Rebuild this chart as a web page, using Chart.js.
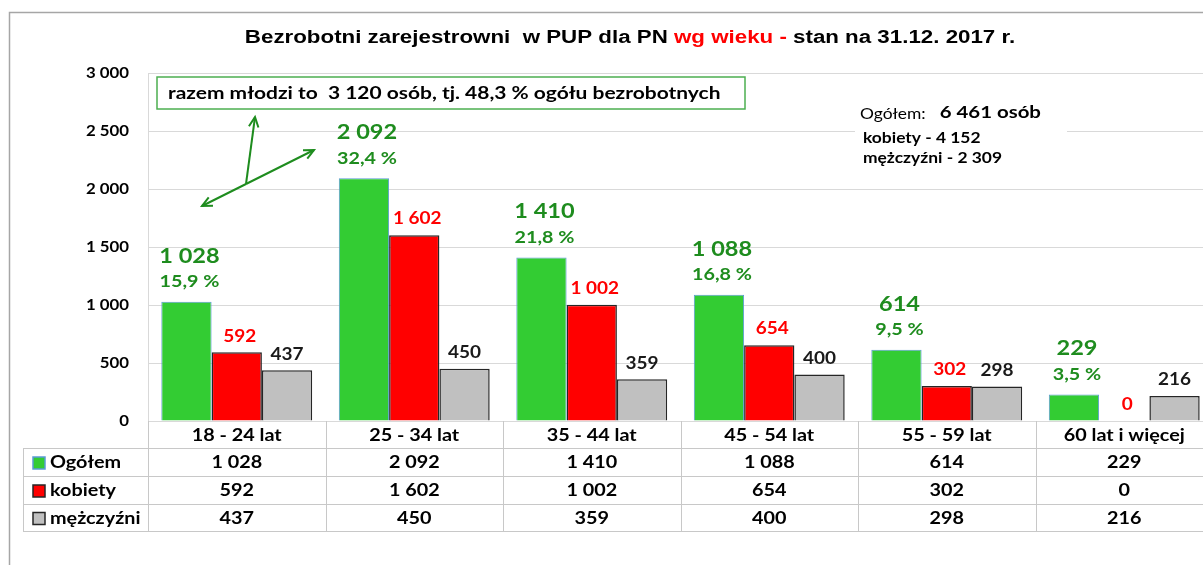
<!DOCTYPE html>
<html>
<head>
<meta charset="utf-8">
<script src="https://cdn.jsdelivr.net/npm/chart.js@4"></script>
<style>
  html, body { margin: 0; padding: 0; background: #fff; overflow: hidden; }
  #wrap { width: 1215px; height: 565px; }
</style>
</head>
<body>
<div id="wrap"><canvas id="myChart" width="1215" height="565"></canvas></div>
<script>
// dane - stan na 31.12.2017
const categories = ['18 - 24 lat', '25 - 34 lat', '35 - 44 lat', '45 - 54 lat', '55 - 59 lat', '60 lat i więcej'];
const ogolem = [1028, 2092, 1410, 1088, 614, 229];
const kobiety = [592, 1602, 1002, 654, 302, 0];
const mezczyzni = [437, 450, 359, 400, 298, 216];
const udzial = ['15,9 %', '32,4 %', '21,8 %', '16,8 %', '9,5 %', '3,5 %'];
const yMax = 3000;
const yStep = 500;

const seriesNames = ['Ogółem', 'kobiety', 'mężczyźni'];
const fills = ['#33CC33', '#FF0000', '#C0C0C0'];
const borders = ['#5B9BD5', '#262626', '#262626'];
const labelColors = ['#1E8C1E', '#FF0000', '#1a1a1a'];

const FONT = 'Lato, "Open Sans", sans-serif';
const TITLE_FONT = '"Liberation Sans", Arial, sans-serif';

// 1 028 -> spacja tysięcy
const fmt = v => String(v).replace(/\B(?=(\d{3})+(?!\d))/g, ' ');

// tekst rozciagniety w poziomie (jak w oryginale)
function txt(c, s, x, y, font, color, align, sx) {
  c.save();
  c.font = font;
  c.fillStyle = color;
  c.textBaseline = 'middle';
  c.textAlign = 'left';
  const w = c.measureText(s).width * sx;
  const x0 = align === 'center' ? x - w / 2 : align === 'right' ? x - w : x;
  c.translate(x0, y);
  c.scale(sx, 1);
  c.fillText(s, 0, 0);
  c.restore();
  return w;
}

const decorations = {
  id: 'decorations',
  beforeDraw(chart) {
    const c = chart.ctx;
    c.save();
    c.strokeStyle = '#a6a6a6';
    c.lineWidth = 1.5;
    c.beginPath();
    c.moveTo(9.5, 565);
    c.lineTo(9.5, 12.5);
    c.lineTo(1215, 12.5);
    c.stroke();
    c.restore();
  },
  afterDatasetsDraw(chart) {
    const c = chart.ctx;
    const metas = [0, 1, 2].map(i => chart.getDatasetMeta(i));

    // etykiety slupkow
    metas[0].data.forEach((bar, i) => {
      txt(c, fmt(ogolem[i]), bar.x + 3, bar.y - 46, 'bold 21px ' + FONT, labelColors[0], 'center', 1.12);
      txt(c, udzial[i], bar.x + 3, bar.y - 20, 'bold 17px ' + FONT, labelColors[0], 'center', 1.16);
    });
    metas[1].data.forEach((bar, i) => {
      txt(c, fmt(kobiety[i]), bar.x + 3, bar.y - 16, 'bold 16.5px ' + FONT, labelColors[1], 'center', 1.15);
    });
    metas[2].data.forEach((bar, i) => {
      txt(c, fmt(mezczyzni[i]), bar.x, bar.y - 16, 'bold 16.5px ' + FONT, labelColors[2], 'center', 1.15);
    });

    // osi Y - opisy
    const y = chart.scales.y;
    y.ticks.forEach(t => {
      txt(c, fmt(t.value), 129, y.getPixelForValue(t.value), 'bold 15px ' + FONT, '#000', 'right', 1.12);
    });

    // tytul
    const parts = [
      ['Bezrobotni zarejestrowni  w PUP dla PN ', '#000'],
      ['wg wieku - ', '#FF0000'],
      ['stan na 31.12. 2017 r.', '#000']
    ];
    const tf = 'bold 18px ' + TITLE_FONT;
    const tsx = 1.24;
    c.font = tf;
    const total = parts.reduce((s, p) => s + c.measureText(p[0]).width * tsx, 0);
    let tx = 630 - total / 2;
    parts.forEach(p => {
      tx += txt(c, p[0], tx, 38, tf, p[1], 'left', tsx);
    });

    // ramka "razem mlodzi"
    c.save();
    c.fillStyle = '#fff';
    c.fillRect(157, 77, 588, 32);
    c.strokeStyle = '#4CAF50';
    c.lineWidth = 1.5;
    c.strokeRect(157, 77, 588, 32);
    c.restore();
    txt(c, 'razem młodzi to  3 120 osób, tj. 48,3 % ogółu bezrobotnych', 168, 94, 'bold 16.5px ' + FONT, '#000', 'left', 1.27);

    // strzalki
    const arrow = (x1, y1, x2, y2) => {
      const a = Math.atan2(y2 - y1, x2 - x1);
      c.beginPath();
      c.moveTo(x1, y1);
      c.lineTo(x2, y2);
      c.stroke();
      c.beginPath();
      c.moveTo(x2 - 11 * Math.cos(a - 0.45), y2 - 11 * Math.sin(a - 0.45));
      c.lineTo(x2, y2);
      c.lineTo(x2 - 11 * Math.cos(a + 0.45), y2 - 11 * Math.sin(a + 0.45));
      c.stroke();
    };
    c.save();
    c.strokeStyle = '#1E8C1E';
    c.lineWidth = 2;
    arrow(246, 184, 255, 117);
    arrow(246, 184, 202, 206);
    arrow(246, 184, 314, 150);
    c.restore();

    // podsumowanie
    c.save();
    c.fillStyle = '#fff';
    c.fillRect(855, 100, 212, 70);
    c.restore();
    const w = txt(c, 'Ogółem:', 860, 114, '14.5px ' + FONT, '#000', 'left', 1.2);
    txt(c, '6 461 osób', 860 + w + 14, 113, 'bold 17px ' + FONT, '#000', 'left', 1.2);
    txt(c, 'kobiety - 4 152', 863, 138, 'bold 14.5px ' + FONT, '#000', 'left', 1.2);
    txt(c, 'mężczyźni - 2 309', 863, 158, 'bold 14.5px ' + FONT, '#000', 'left', 1.2);
  },
  afterDraw(chart) {
    // tabela danych pod osia
    const c = chart.ctx;
    const x = chart.scales.x;
    const area = chart.chartArea;
    const half = (x.getPixelForValue(1) - x.getPixelForValue(0)) / 2;
    const rows = [421, 448, 476, 504, 531];
    const tableLeft = 23;
    const tfont = 'bold 16.5px ' + FONT;
    const tsx = 1.2;
    c.save();
    c.strokeStyle = '#c8c8c8';
    c.lineWidth = 1;
    c.beginPath();
    for (let r = 1; r < rows.length; r++) {
      c.moveTo(tableLeft, rows[r] + 0.5);
      c.lineTo(1215, rows[r] + 0.5);
    }
    c.moveTo(tableLeft + 0.5, rows[1]);
    c.lineTo(tableLeft + 0.5, rows[4]);
    categories.forEach((cat, i) => {
      const bx = Math.round(x.getPixelForValue(i) + half) + 0.5;
      c.moveTo(bx, rows[0]);
      c.lineTo(bx, rows[4]);
    });
    c.moveTo(area.left + 0.5, rows[0]);
    c.lineTo(area.left + 0.5, rows[4]);
    c.stroke();
    c.restore();

    categories.forEach((cat, i) => {
      txt(c, cat, x.getPixelForValue(i), (rows[0] + rows[1]) / 2 + 1, tfont, '#000', 'center', tsx);
    });
    const tableData = [ogolem, kobiety, mezczyzni];
    tableData.forEach((vals, r) => {
      const yc = (rows[r + 1] + rows[r + 2]) / 2 + 1;
      vals.forEach((v, i) => {
        txt(c, fmt(v), x.getPixelForValue(i), yc, tfont, '#000', 'center', tsx);
      });
      // legenda
      c.save();
      c.fillStyle = fills[r];
      c.fillRect(33, yc - 6, 12, 12);
      c.strokeStyle = borders[r];
      c.lineWidth = 1.5;
      c.strokeRect(33, yc - 6, 12, 12);
      c.restore();
      txt(c, seriesNames[r], 50, yc, tfont, '#000', 'left', tsx);
    });
  }
};

const ctx = document.getElementById('myChart');
new Chart(ctx, {
  type: 'bar',
  data: {
    labels: categories,
    datasets: [ogolem, kobiety, mezczyzni].map((d, i) => ({
      label: seriesNames[i],
      data: d,
      backgroundColor: fills[i],
      borderColor: borders[i],
      borderWidth: i === 0 ? 1 : 1.5,
      barPercentage: 1.0,
      categoryPercentage: 0.85
    }))
  },
  options: {
    responsive: false,
    animation: false,
    devicePixelRatio: 1,
    layout: { padding: { left: 0, top: 73, right: 2, bottom: 144 } },
    plugins: {
      legend: { display: false },
      title: { display: false },
      tooltip: { enabled: false }
    },
    scales: {
      x: { display: false },
      y: {
        min: 0,
        max: yMax,
        afterFit(scale) { scale.width = 148; },
        ticks: { stepSize: yStep, display: false },
        grid: { color: '#d9d9d9', drawTicks: false },
        border: { color: '#d9d9d9' }
      }
    }
  },
  plugins: [decorations]
});
</script>
</body>
</html>
